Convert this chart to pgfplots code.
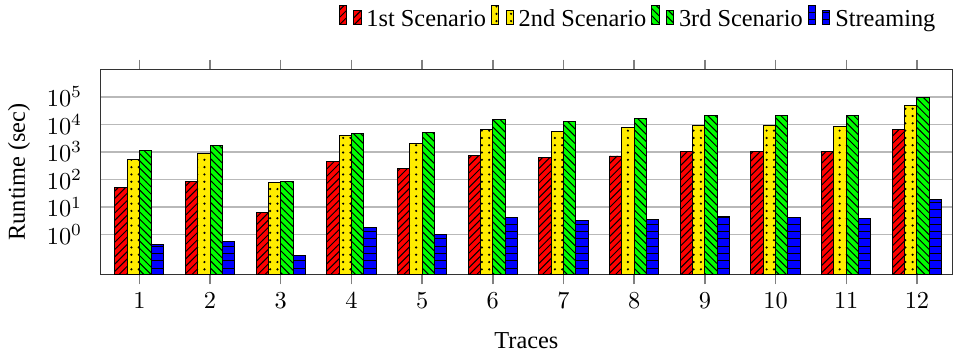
\documentclass[border=0pt]{standalone}
\usepackage{fontspec}
\setmainfont{Liberation Serif}
\usepackage{pgfplots}
\pgfplotsset{compat=1.18}
\usetikzlibrary{patterns}
\definecolor{myyellow}{RGB}{255,236,0}
\begin{document}
\begin{tikzpicture}
\begin{axis}[
  scale only axis,
  width=350pt, height=84.4pt,
  ybar=0pt, bar width=5.05pt,
  ymode=log, log origin=infty,
  ymin=0.035, ymax=1e6,
  ytick={1,10,100,1000,10000,100000},
  xmin=0.45, xmax=12.5,
  xtick={1,2,3,4,5,6,7,8,9,10,11,12},
  tick align=outside,
  xtick pos=both,
  ytick pos=left,
  major tick length=4pt,
  xtick style={gray, semithick},
  ytick style={draw=none},
  ymajorgrids, grid style={gray!55, semithick},
  axis line style={black!80},
  xlabel={Traces}, ylabel={Runtime (sec)},
  xlabel style={yshift=-3pt},
  legend columns=-1,
  legend style={draw=none, at={(rel axis cs:0.995,1.14)}, anchor=south east, font=\normalsize,
    /tikz/every even column/.append style={column sep=0pt}},
]
\addplot[draw=black, fill=red, postaction={pattern=north east lines}] coordinates {
(1,51) (2,83) (3,6.3) (4,440) (5,240) (6,770) (7,650) (8,710) (9,1070) (10,1070) (11,1070) (12,6600)};
\addplot[draw=black, fill=myyellow, postaction={pattern=dots}] coordinates {
(1,520) (2,910) (3,75) (4,3800) (5,2100) (6,6700) (7,5700) (8,7400) (9,9400) (10,8900) (11,8700) (12,50000)};
\addplot[draw=black, fill=green, postaction={pattern=north west lines}] coordinates {
(1,1080) (2,1670) (3,85) (4,4700) (5,5000) (6,15500) (7,13200) (8,17000) (9,21800) (10,21800) (11,21800) (12,98000)};
\addplot[draw=black, fill=blue, postaction={pattern=horizontal lines}] coordinates {
(1,0.42) (2,0.57) (3,0.17) (4,1.75) (5,0.98) (6,4.0) (7,3.2) (8,3.4) (9,4.5) (10,4.0) (11,3.7) (12,18)};
\legend{1st Scenario, 2nd Scenario, 3rd Scenario, Streaming}
\end{axis}
\end{tikzpicture}
\end{document}
